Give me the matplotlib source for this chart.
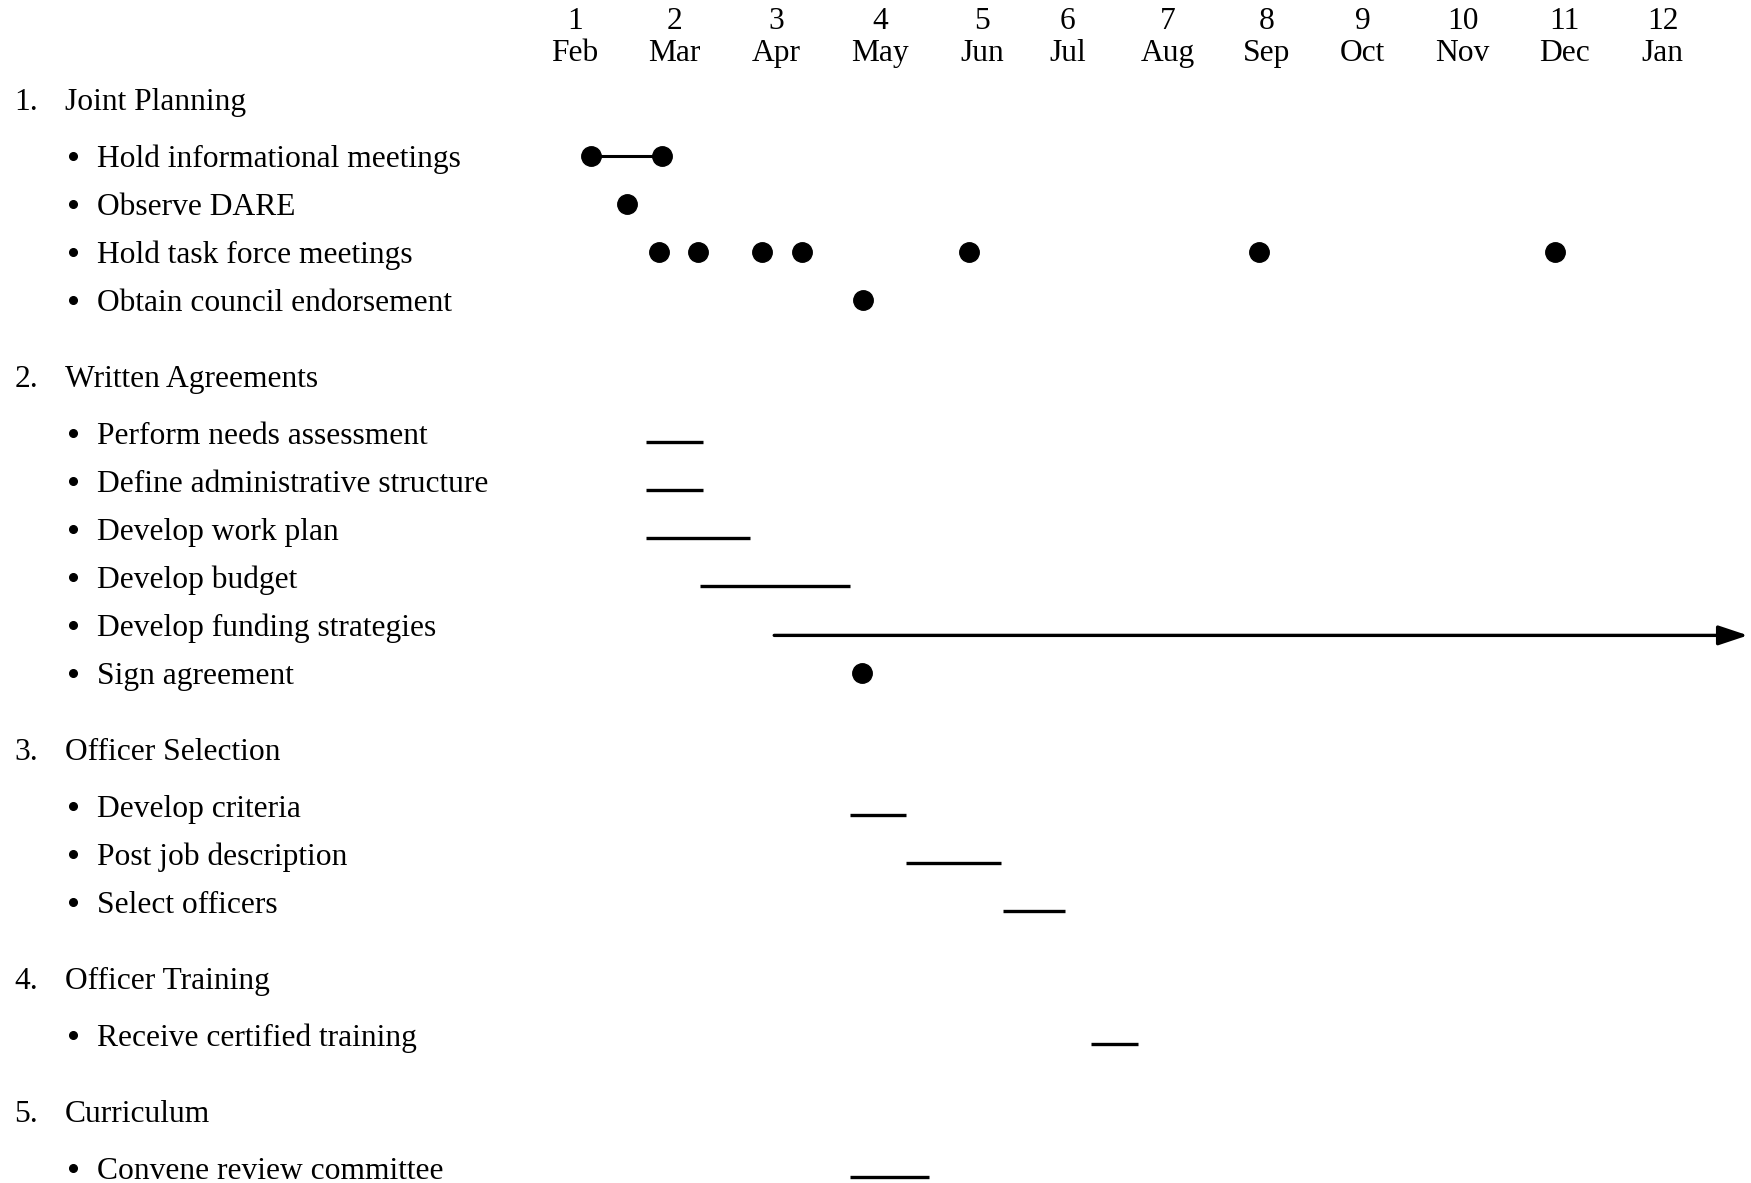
import matplotlib.pyplot as plt
from matplotlib.transforms import blended_transform_factory

plt.rcParams['font.family'] = ['Liberation Serif', 'DejaVu Serif']

# ---- data -------------------------------------------------------------
month_nums = ['1', '2', '3', '4', '5', '6', '7', '8', '9', '10', '11', '12']
month_names = ['Feb', 'Mar', 'Apr', 'May', 'Jun', 'Jul',
               'Aug', 'Sep', 'Oct', 'Nov', 'Dec', 'Jan']
# where each header label sits (month units, as printed)
month_label_pos = [1.0, 2.0, 3.03, 4.08, 5.11, 5.97, 6.98, 7.98, 8.95, 9.96, 10.99, 11.98]

sections = ['Joint Planning', 'Written Agreements', 'Officer Selection',
            'Officer Training', 'Curriculum']
section_items = [
    ['Hold informational meetings', 'Observe DARE',
     'Hold task force meetings', 'Obtain council endorsement'],
    ['Perform needs assessment', 'Define administrative structure',
     'Develop work plan', 'Develop budget', 'Develop funding strategies',
     'Sign agreement'],
    ['Develop criteria', 'Post job description', 'Select officers'],
    ['Receive certified training'],
    ['Convene review committee'],
]

# milestones, in month units (1 = Feb column centre)
dot_months = {
    'Hold informational meetings': [1.16, 1.88],
    'Observe DARE': [1.52],
    'Hold task force meetings': [1.85, 2.24, 2.89, 3.29, 4.98, 7.90, 10.89],
    'Obtain council endorsement': [3.91],
    'Sign agreement': [3.90],
}
# dot pairs joined by a line
linked_months = {
    'Hold informational meetings': (1.16, 1.88),
}
# activity periods
span_months = {
    'Perform needs assessment': (1.72, 2.29),
    'Define administrative structure': (1.72, 2.29),
    'Develop work plan': (1.72, 2.77),
    'Develop budget': (2.26, 3.78),
    'Develop criteria': (3.78, 4.34),
    'Post job description': (4.34, 5.30),
    'Select officers': (5.32, 5.95),
    'Receive certified training': (6.21, 6.68),
    'Convene review committee': (3.78, 4.57),
}
# ongoing activities
arrow_months = {
    'Develop funding strategies': (3.01, 12.84),
}

# ---- layout -----------------------------------------------------------
W, H = 1568.0, 1059.4          # drawing units (px of the scan)
X0, DX = 515.0, 88.7           # centre of month 1, column pitch
FS = 22.7

fig = plt.figure(figsize=(17.51, 11.83), dpi=100)
fig.patch.set_facecolor('white')
ax = fig.add_axes([0, 0, 1, 1])
ax.set_xlim(1 - X0 / DX, 1 + (W - X0) / DX)
ax.set_ylim(H, 0)
ax.axis('off')
tleft = blended_transform_factory(ax.transAxes, ax.transData)

# month header
for xp, n, m in zip(month_label_pos, month_nums, month_names):
    ax.text(xp, 19, n, ha='center', va='center', fontsize=FS)
    ax.text(xp, 48, m, ha='center', va='center', fontsize=FS)

# rows
y = 89
for si, (sec, items) in enumerate(zip(sections, section_items)):
    if si > 0:
        y += 68
    ax.text(13 / W, y + 3, f'{si + 1}.', ha='left', va='center', fontsize=FS, transform=tleft)
    ax.text(58 / W, y + 3, sec, ha='left', va='center', fontsize=FS, transform=tleft)
    y += 51
    for k, item in enumerate(items):
        if k > 0:
            y += 43
        ax.plot([65 / W], [y], 'o', color='black', markersize=5.5, transform=tleft)
        ax.text(87 / W, y + 3, item, ha='left', va='center', fontsize=FS, transform=tleft)

        if item in linked_months:
            a, b = linked_months[item]
            ax.plot([a, b], [y, y], color='black', lw=2.2, solid_capstyle='butt')
        if item in dot_months:
            ax.plot(dot_months[item], [y] * len(dot_months[item]), 'o',
                    color='black', markersize=14, linestyle='none')
        if item in span_months:
            a, b = span_months[item]
            ax.plot([a, b], [y + 8, y + 8], color='black', lw=2.4, solid_capstyle='butt')
        if item in arrow_months:
            a, b = arrow_months[item]
            ax.annotate('', xy=(b, y + 9), xytext=(a, y + 9), annotation_clip=False,
                        arrowprops=dict(arrowstyle='-|>,head_length=1.8,head_width=0.6',
                                        color='black', lw=2.4, shrinkA=0, shrinkB=0))

fig.savefig('out.png', dpi=100, facecolor='white')
